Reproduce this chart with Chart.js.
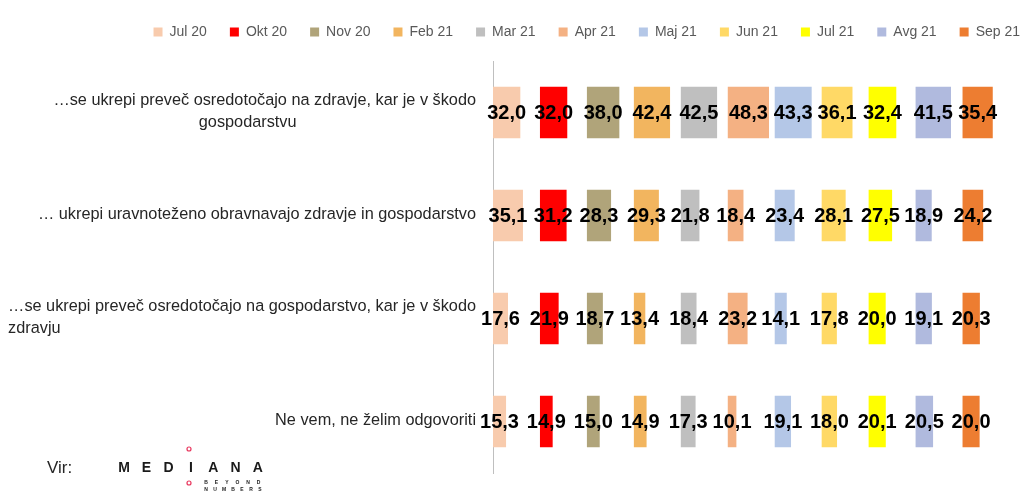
<!DOCTYPE html>
<html>
<head>
<meta charset="utf-8">
<script src="https://cdn.jsdelivr.net/npm/chart.js@4/dist/chart.umd.min.js"></script>
<style>
    html, body { margin: 0; padding: 0; background: #fff; }
    #wrap { width: 1024px; height: 492px; }
</style>
</head>
<body>
<div id="wrap"><canvas id="chart"></canvas></div>
<script>
// Categories (answers), one line per array entry
const categories = [
    ['…se ukrepi preveč osredotočajo na zdravje, kar je v škodo', 'gospodarstvu'],
    ['… ukrepi uravnoteženo obravnavajo zdravje in gospodarstvo'],
    ['…se ukrepi preveč osredotočajo na gospodarstvo, kar je v škodo', 'zdravju'],
    ['Ne vem, ne želim odgovoriti']
];

const months = ['Jul 20', 'Okt 20', 'Nov 20', 'Feb 21', 'Mar 21', 'Apr 21', 'Maj 21', 'Jun 21', 'Jul 21', 'Avg 21', 'Sep 21'];
const monthColors = ['#F8CBAD', '#FF0000', '#B0A47A', '#F2B55F', '#BFBFBF', '#F4B183', '#B4C7E7', '#FFD966', '#FFFF00', '#B0BADE', '#ED7D31'];

// values per answer, in month order
const tooMuchHealth  = [32.0, 32.0, 38.0, 42.4, 42.5, 48.3, 43.3, 36.1, 32.4, 41.5, 35.4];
const balanced       = [35.1, 31.2, 28.3, 29.3, 21.8, 18.4, 23.4, 28.1, 27.5, 18.9, 24.2];
const tooMuchEconomy = [17.6, 21.9, 18.7, 13.4, 18.4, 23.2, 14.1, 17.8, 20.0, 19.1, 20.3];
const dontKnow       = [15.3, 14.9, 15.0, 14.9, 17.3, 10.1, 19.1, 18.0, 20.1, 20.5, 20.0];

const rows = [tooMuchHealth, balanced, tooMuchEconomy, dontKnow];

// each month gets its own panel of the same width on the x axis
const colSpan = 55;
const xMax = 622;

// how the wrapped second line of a category label sits
const wrapAlign = ['center', null, 'left', null];

const fmt = v => v.toFixed(1).replace('.', ',');

const datasets = months.map((m, i) => ({
    label: m,
    data: rows.map(r => [i * colSpan, i * colSpan + r[i]]),
    backgroundColor: monthColors[i],
    borderWidth: 0,
    grouped: false,
    barPercentage: 0.5,
    categoryPercentage: 1.0
}));

const extrasPlugin = {
    id: 'extras',
    afterInit(chart) {
        // leave some room between the legend and the bars
        const legend = chart.legend;
        if (legend) {
            const fit = legend.fit;
            legend.fit = function () {
                fit.call(this);
                this.height += 12;
            };
        }
    },
    afterDatasetsDraw(chart) {
        const ctx = chart.ctx;
        ctx.save();
        ctx.font = 'bold 20px "Liberation Sans", Arial, sans-serif';
        ctx.fillStyle = '#000';
        ctx.textAlign = 'center';
        ctx.textBaseline = 'middle';
        chart.data.datasets.forEach((ds, di) => {
            const meta = chart.getDatasetMeta(di);
            meta.data.forEach((bar, j) => {
                const cx = (bar.x + bar.base) / 2;
                ctx.fillText(fmt(rows[j][di]), cx, bar.y + 1);
            });
        });
        ctx.restore();
    },
    afterDraw(chart) {
        const ctx = chart.ctx;
        const yScale = chart.scales.y;
        ctx.save();

        // category labels
        ctx.font = '16.3px "Liberation Sans", Arial, sans-serif';
        ctx.fillStyle = '#262626';
        ctx.textBaseline = 'middle';
        const right = 476;
        const lineH = 22;
        categories.forEach((lines, i) => {
            const yc = yScale.getPixelForValue(i);
            const y0 = yc - (lines.length - 1) * lineH / 2 - 1;
            const w1 = ctx.measureText(lines[0]).width;
            lines.forEach((line, k) => {
                const y = y0 + k * lineH;
                if (k === 0) {
                    ctx.textAlign = 'right';
                    ctx.fillText(line, right, y);
                } else if (wrapAlign[i] === 'left') {
                    ctx.textAlign = 'left';
                    ctx.fillText(line, right - w1, y);
                } else {
                    ctx.textAlign = 'center';
                    ctx.fillText(line, right - w1 / 2 - 17, y);
                }
            });
        });

        // source
        ctx.textAlign = 'left';
        ctx.font = '17px "Liberation Sans", Arial, sans-serif';
        ctx.fillText('Vir:', 47, 468);

        // logo
        ctx.font = 'bold 14px "Liberation Sans", Arial, sans-serif';
        ctx.fillStyle = '#1a1a1a';
        ctx.textAlign = 'center';
        'MEDIANA'.split('').forEach((ch, k) => {
            ctx.fillText(ch, 124 + k * 22.3, 468);
        });
        ctx.font = 'bold 5px "Liberation Sans", Arial, sans-serif';
        'BEYOND'.split('').forEach((ch, k) => ctx.fillText(ch, 206 + k * 10.5, 483));
        'NUMBERS'.split('').forEach((ch, k) => ctx.fillText(ch, 206 + k * 9, 490));
        ctx.strokeStyle = '#E8365D';
        ctx.lineWidth = 1.2;
        [449, 483].forEach(y => {
            ctx.beginPath();
            ctx.arc(189, y, 2, 0, Math.PI * 2);
            ctx.stroke();
        });
        ctx.restore();
    }
};

new Chart(document.getElementById('chart'), {
    type: 'bar',
    data: {
        labels: categories.map(c => c.join(' ')),
        datasets: datasets
    },
    options: {
        indexAxis: 'y',
        responsive: true,
        maintainAspectRatio: false,
        animation: false,
        layout: {
            padding: { top: 2, right: -19, bottom: 19, left: 0 }
        },
        plugins: {
            legend: {
                position: 'top',
                align: 'end',
                labels: {
                    boxWidth: 9,
                    boxHeight: 9,
                    padding: 23,
                    color: '#595959',
                    font: { size: 14, family: '"Liberation Sans", Arial, sans-serif' }
                }
            },
            tooltip: { enabled: false }
        },
        scales: {
            x: {
                display: false,
                min: 0,
                max: xMax
            },
            y: {
                grid: { display: false, drawTicks: false },
                border: { display: true, color: '#BFBFBF', width: 1 },
                ticks: { display: false },
                afterFit(axis) {
                    axis.width = 493;
                }
            }
        }
    },
    plugins: [extrasPlugin]
});
</script>
</body>
</html>
